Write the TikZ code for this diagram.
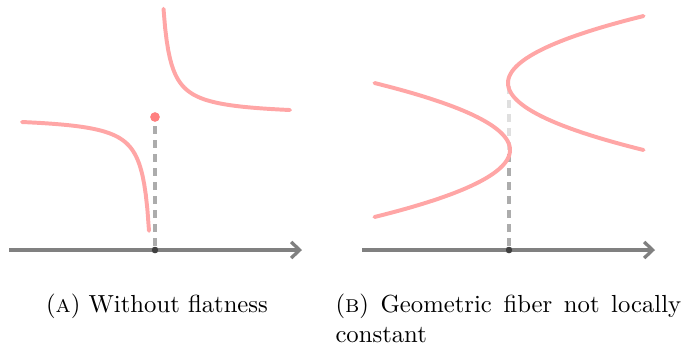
\documentclass[tikz,border=0pt]{standalone}
\usepackage{tikz}
\usetikzlibrary{arrows.meta, positioning}

\begin{document}
\begin{tikzpicture}[x=0.405pt, y=-0.405pt]
        \tikzstyle{axis} = [draw, gray, line width=1.35pt, -{Straight Barb[length=3.4pt, width=6.5pt]}]
        \tikzstyle{fiber} = [draw, red!35, line width=1.6pt, line cap=round]
        \tikzstyle{fiberdash} = [draw, gray!65, line width=1.4pt, dash pattern=on 3.3pt off 2.4pt]
        \tikzstyle{basept} = [circle, fill=black!75, inner sep=0pt, minimum size=2.6pt]
        \tikzstyle{limitpt} = [circle, fill=red!50, inner sep=0pt, minimum size=3.8pt]
        \tikzstyle{subcap} = [inner sep=0pt, font=\normalsize]
        \useasboundingbox (0,0) rectangle (681,346);

        % (a) without flatness
        \coordinate (axA0) at (9,250);
        \coordinate (axA1) at (302,250);
        \node [basept] (baseA) at (155,250) {};
        \node [limitpt] (ptA) at (155,117) {};
        \path [fiberdash] (baseA) -- (ptA);
        \path [axis] (axA0) -- (axA1);
        \node [basept] at (baseA) {};
        \node [limitpt] at (ptA) {};
        \path [fiber] plot[domain=22:149, samples=80] (\x, {116+804/(156-\x)});
        \path [fiber] plot[domain=163.5:290, samples=80] (\x, {116-804/(\x-156)});
        \node [subcap, anchor=base] (capA) at (157,312) {(\textsc{a}) Without flatness};

        % (b) geometric fiber not locally constant
        \coordinate (axB0) at (362,250);
        \coordinate (axB1) at (655,250);
        \node [basept] (baseB) at (509,250) {};
        \coordinate (vB1) at (509,150);
        \coordinate (vB2) at (509,83);
        \path [fiberdash] (baseB) -- (vB1);
        \path [fiberdash, gray!25] (vB1) -- (vB2);
        \path [axis] (axB0) -- (axB1);
        \node [basept] at (baseB) {};
        \path [fiber] plot[domain=-67:67, samples=80] ({510-0.0302*\x*\x}, {150+\x});
        \path [fiber] plot[domain=-67:67, samples=80] ({508+0.0302*\x*\x}, {83+\x});
        \node [subcap, anchor=north west, text width=140pt, align=justify] (capB) at (335,293.5)
            {(\textsc{b}) Geometric fiber not locally constant};
    \end{tikzpicture}
\end{document}
